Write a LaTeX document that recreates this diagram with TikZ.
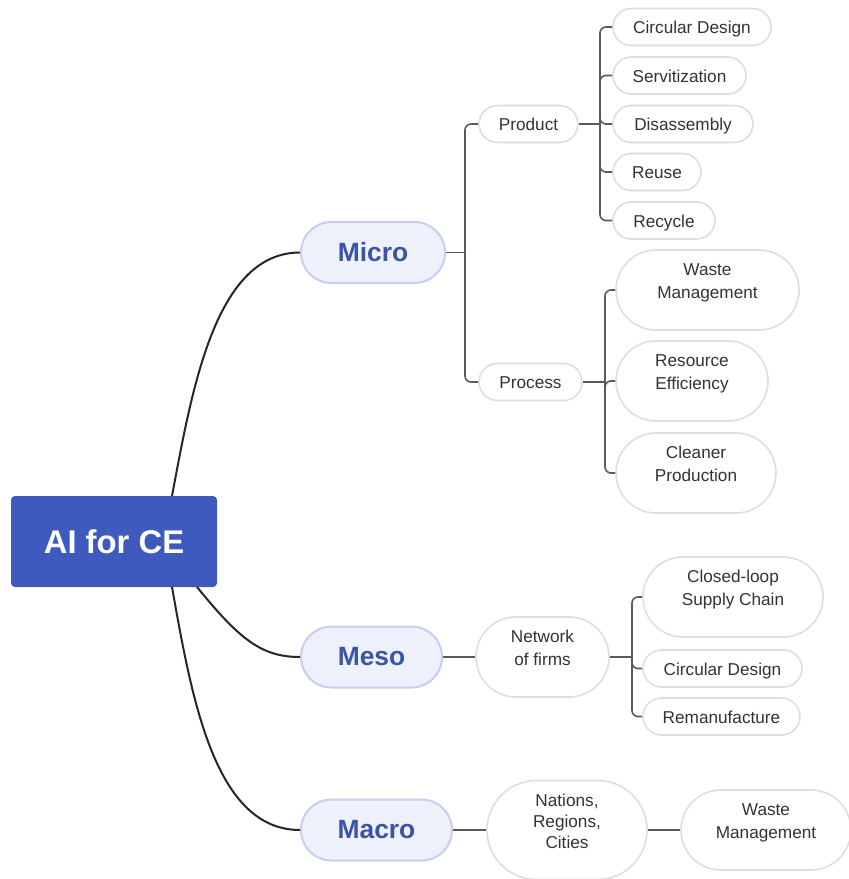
\documentclass[tikz,border=0pt]{standalone}
\usepackage{fontspec}
\setmainfont{Liberation Sans}
\definecolor{rootblue}{RGB}{62,90,190}
\definecolor{lvfill}{RGB}{238,241,252}
\definecolor{lvborder}{RGB}{200,206,240}
\definecolor{lvtext}{RGB}{58,84,166}
\definecolor{leafborder}{RGB}{222,222,222}
\definecolor{linkgray}{RGB}{90,90,90}
\begin{document}
\begin{tikzpicture}[x=0.5pt,y=-0.5pt,
  rootbox/.style={draw=none,fill=rootblue,rounded corners=2pt,minimum width=103pt,minimum height=45.5pt,inner sep=0pt,text=white,font=\fontsize{16.4}{19}\selectfont\bfseries},
  levelbox/.style={draw=lvborder,line width=1pt,fill=lvfill,rounded corners=15.25pt,minimum height=30.5pt,inner sep=0pt,text=lvtext,font=\fontsize{13.2}{16}\selectfont\bfseries},
  basebox/.style={draw=leafborder,line width=0.8pt,fill=white,inner sep=0pt,align=center,font=\fontsize{8.6}{11.5}\selectfont,text=black!80},
  leafbox/.style={basebox,rounded corners=9.25pt,minimum height=18.5pt,text height=7.4pt,text depth=0.8pt},
  tallbox/.style={basebox,rounded corners=20pt,minimum height=40pt},
  rootlink/.style={draw=black!85,line width=1pt},
  link/.style={draw=linkgray,line width=0.8pt},
  elbow/.style={draw=linkgray,line width=0.8pt,rounded corners=3pt}
]
\useasboundingbox (0,0) rectangle (848,879);
\fill[white] (0,0) rectangle (848,879);

% root and levels
\node[rootbox] (root) at (114,541.5) {AI for CE};
\node[levelbox,minimum width=72pt] (micro) at (373,252.5) {Micro};
\node[levelbox,minimum width=70.5pt] (meso) at (371.5,657) {Meso};
\node[levelbox,minimum width=75.5pt] (macro) at (376.5,830) {Macro};

% micro level
\node[leafbox,minimum width=49.5pt] (product) at (528.5,124) {Product};
\node[leafbox,minimum width=51.5pt] (process) at (530.5,382) {Process};

\node[leafbox,minimum width=79pt] (circ1) at (692,27) {Circular Design};
\node[leafbox,minimum width=66.5pt] (servi) at (679.5,75.5) {Servitization};
\node[leafbox,minimum width=70pt] (disas) at (683,124) {Disassembly};
\node[leafbox,minimum width=44pt] (reuse) at (657,172) {Reuse};
\node[leafbox,minimum width=51pt] (recyc) at (664,220.5) {Recycle};

\node[tallbox,minimum width=91.5pt] (waste1) at (707.5,290) {Waste\\Management\\[-2.5pt]};
\node[tallbox,minimum width=76pt] (resou) at (692,381) {Resource\\Efficiency\\[-2.5pt]};
\node[tallbox,minimum width=80pt] (clean) at (696,473) {Cleaner\\Production\\[-2.5pt]};

% meso level
\node[tallbox,minimum width=66.5pt] (network) at (542.5,657) {Network\\of firms\\[-2.5pt]};
\node[tallbox,minimum width=90pt] (closed) at (733,597) {Closed-loop\\Supply Chain\\[-2.5pt]};
\node[leafbox,minimum width=79.5pt] (circ2) at (722.5,668.5) {Circular Design};
\node[leafbox,minimum width=78.5pt] (reman) at (721.5,716.5) {Remanufacture};

% macro level
\node[basebox,rounded corners=24.75pt,minimum width=80pt,minimum height=49.5pt,font=\fontsize{8.6}{10.5}\selectfont] (nations) at (567,830) {Nations,\\Regions,\\Cities\\[-1.5pt]};
\node[tallbox,minimum width=85pt] (waste2) at (766,830) {Waste\\Management\\[-2.5pt]};

% root connectors
\coordinate (rtop) at (172,496);
\coordinate (rbot1) at (197,587);
\coordinate (rbot2) at (172,587);
\draw[rootlink] (rtop) .. controls (192,390) and (215,252.5) .. (micro.west);
\draw[rootlink] (rbot1) .. controls (240,640) and (262,657) .. (meso.west);
\draw[rootlink] (rbot2) .. controls (192,700) and (215,830) .. (macro.west);

% micro brackets
\coordinate (jm) at (465,252.5);
\draw[link] (micro.east) -- (jm);
\draw[elbow] (jm) |- (product.west);
\draw[elbow] (jm) |- (process.west);

\coordinate (jp) at (600,124);
\draw[link] (product.east) -- (jp);
\foreach \c in {circ1,servi,disas,reuse,recyc}
  \draw[elbow] (jp) |- (\c.west);

\coordinate (jq) at (605,382);
\draw[link] (process.east) -- (jq);
\foreach \c in {waste1,resou,clean}
  \draw[elbow] (jq) |- (\c.west);

% meso
\draw[link] (meso.east) -- (network.west);
\coordinate (jn) at (632,657);
\draw[link] (network.east) -- (jn);
\foreach \c in {closed,circ2,reman}
  \draw[elbow] (jn) |- (\c.west);

% macro
\draw[link] (macro.east) -- (nations.west);
\draw[link] (nations.east) -- (waste2.west);
\end{tikzpicture}
\end{document}
